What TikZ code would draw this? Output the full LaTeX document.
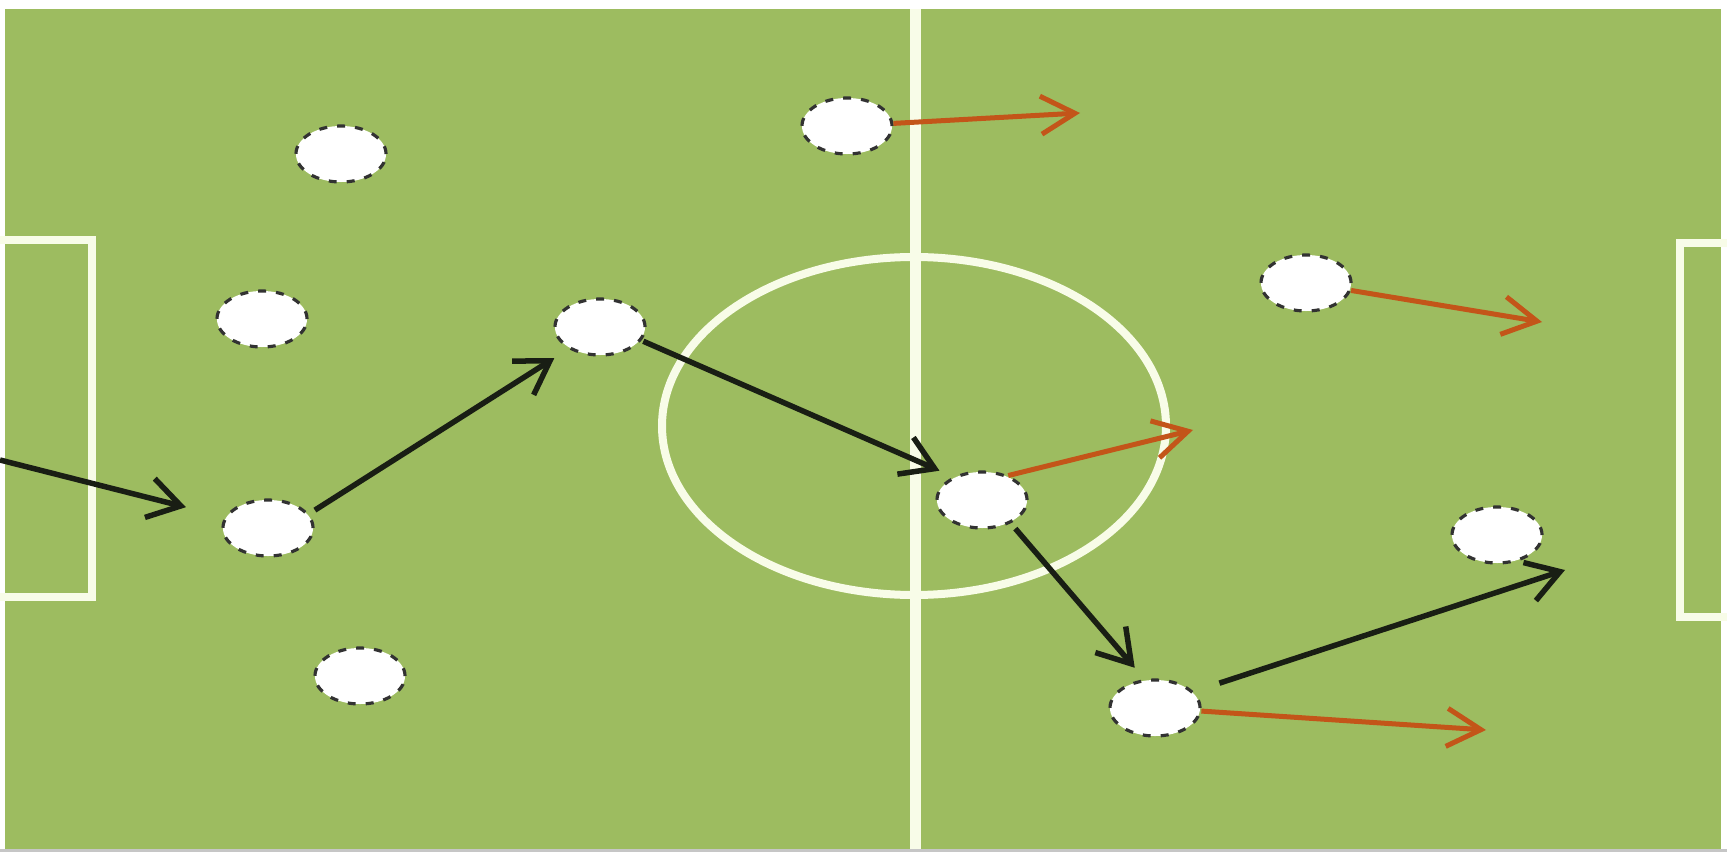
\documentclass[tikz,border=0pt]{standalone}
\usetikzlibrary{shapes.geometric,arrows.meta}
\definecolor{pitch}{RGB}{157,188,96}
\definecolor{chalk}{RGB}{248,252,232}
\definecolor{runcol}{RGB}{195,85,25}
\definecolor{passcol}{RGB}{25,30,20}
\definecolor{rim}{RGB}{50,50,50}
\begin{document}
\begin{tikzpicture}[x=0.01cm,y=-0.01cm,
  player/.style={ellipse, fill=white, draw=rim, dash pattern=on 0.8mm off 1mm, line width=0.9pt,
    minimum width=0.9cm, minimum height=0.56cm, inner sep=0pt},
  markline/.style={draw=chalk, line width=0.08cm},
  pass/.style={draw=passcol, line width=0.055cm, -{Straight Barb[length=3.2mm,width=4mm]}},
  run/.style={draw=runcol, line width=0.05cm, -{Straight Barb[length=3.4mm,width=3.8mm]}}]
\useasboundingbox (0,0) rectangle (1727,852);
% field
\fill[white] (0,0) rectangle (1727,852);
\fill[pitch] (5,9) rectangle (1721,849);
\fill[gray!45] (0,849) rectangle (1727,852);
\draw[markline, line width=0.11cm] (915,9) -- (915,849);
\draw[markline] (914,426) ellipse [x radius=252, y radius=169];
\draw[markline] (0,240) -- (92,240) -- (92,597) -- (0,597);
\draw[markline] (1727,243) -- (1680,243) -- (1680,617) -- (1727,617);
% players
\node[player] (p1) at (341,154) {};
\node[player] (p2) at (262,319) {};
\node[player] (p3) at (268,528) {};
\node[player] (p4) at (360,676) {};
\node[player] (p5) at (600,327) {};
\node[player] (p6) at (847,126) {};
\node[player] (p7) at (1306,283) {};
\node[player] (p8) at (982,500) {};
\node[player] (p9) at (1497,535) {};
\node[player] (p10) at (1155,708) {};
% passes
\coordinate (a0) at (0,460);
\coordinate (e2) at (1565,570);
\draw[pass, shorten >=0.4cm] (a0) -- (p3);
\draw[pass, shorten <=0.07cm, shorten >=0.17cm] (p3.19) -- (p5.215);
\draw[pass, shorten <=0.02cm, shorten >=0.15cm] (p5.342) -- (p8.141);
\draw[pass, shorten <=0.07cm, shorten >=0.15cm] (p8.321) -- (p10.110);
\draw[pass, shorten <=0.27cm] (p10.23) -- (e2);
% runs
\coordinate (f2) at (1080,113);
\coordinate (g2) at (1542,322);
\coordinate (h2) at (1193,430);
\coordinate (i2) at (1486,730);
\draw[run] (p6) -- (f2);
\draw[run] (p7) -- (g2);
\draw[run] (p8.43) -- (h2);
\draw[run] (p10) -- (i2);
\end{tikzpicture}
\end{document}
